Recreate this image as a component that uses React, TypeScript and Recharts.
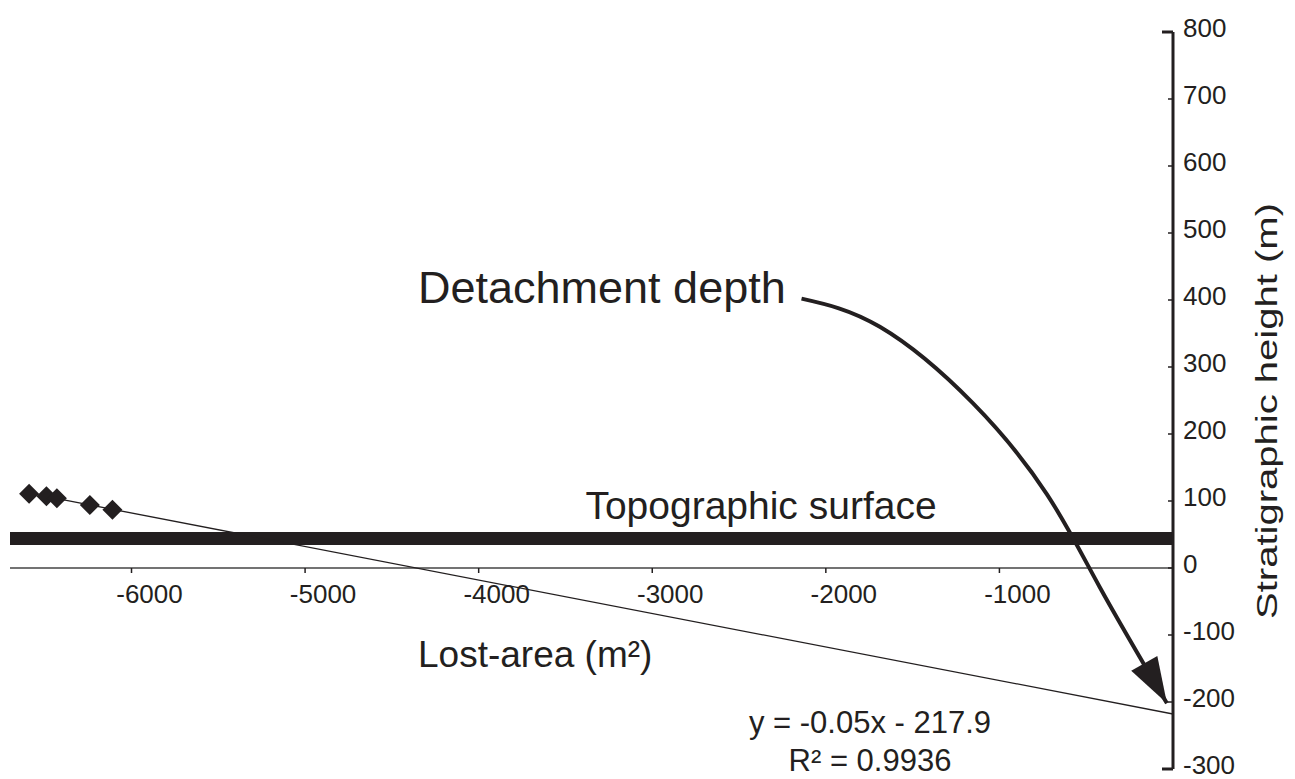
import React from 'react';
import { ComposedChart, XAxis, YAxis, Line, Scatter, ReferenceLine, ReferenceDot, Customized } from 'recharts';

// measured points (lost area vs stratigraphic height)
const pointX = [-6590, -6490, -6430, -6240, -6110];
const pointY = [111, 107, 104, 94, 87];

// linear trend, drawn out to x = 0
const trendX = [-6590, 0];
const trendY = [111.6, -217.9];

// topographic surface
const surfaceX = [-6700, 0];
const surfaceY = [44, 44];

// curved "detachment depth" arrow, in data units
const arrowX = [-2140, -1689, -1153, -726, -421, -35];
const arrowY = [402, 360, 246, 110, -29, -202];

const xTicks = [-6000, -5000, -4000, -3000, -2000, -1000];
const yTicks = [-300, -200, -100, 0, 100, 200, 300, 400, 500, 600, 700, 800];

const zip = (xs: number[], ys: number[]) => xs.map((x, i) => ({ x, y: ys[i] }));

const points = zip(pointX, pointY);
const trend = zip(trendX, trendY);
const surface = zip(surfaceX, surfaceY);
const arrow = zip(arrowX, arrowY);

const FONT = '"Liberation Sans", Arial, sans-serif';
const INK = '#231f20';

const Diamond = (props: any) => {
  const { cx, cy } = props;
  const s = 10;
  return (
    <polygon
      points={`${cx},${cy - s} ${cx + s},${cy} ${cx},${cy + s} ${cx - s},${cy}`}
      fill={INK}
    />
  );
};

const ArrowHead = (props: any) => {
  const { cx, cy, index } = props;
  if (index !== arrow.length - 1) return <g key={`ah-${index}`} />;
  return (
    <polygon
      key={`ah-${index}`}
      points="0,0 -46,-15 -46,15"
      fill={INK}
      transform={`translate(${cx},${cy}) rotate(60.5)`}
    />
  );
};

const YTick = (props: any) => {
  const { x, y, payload } = props;
  const isEnd = payload.value === 800 || payload.value === -300;
  return (
    <g>
      <line
        x1={x - (isEnd ? 11 : 5)}
        x2={x}
        y1={y}
        y2={y}
        stroke={INK}
        strokeWidth={isEnd ? 3 : 1.5}
      />
      <text x={x + 10} y={y + 5} fontSize={26} fontFamily={FONT} fill={INK}>
        {payload.value}
      </text>
    </g>
  );
};

const XTick = (props: any) => {
  const { cx, cy, value } = props;
  return (
    <g>
      <line x1={cx} x2={cx} y1={cy} y2={cy + 5} stroke={INK} strokeWidth={1.5} />
      <text x={cx + 18} y={cy + 35} textAnchor="middle" fontSize={26} fontFamily={FONT} fill={INK}>
        {value}
      </text>
    </g>
  );
};

const Annotations = () => (
  <g fontFamily={FONT} fill={INK}>
    <text x={418} y={303} fontSize={45}>Detachment depth</text>
    <text x={761} y={519} fontSize={39} textAnchor="middle">Topographic surface</text>
    <text x={418} y={667} fontSize={37}>Lost-area (m²)</text>
    <text x={870} y={733} fontSize={31} textAnchor="middle">y = -0.05x - 217.9</text>
    <text x={870} y={771} fontSize={31} textAnchor="middle">R² = 0.9936</text>
    <text
      x={1277}
      y={411}
      fontSize={30}
      textAnchor="middle"
      textLength={416}
      lengthAdjust="spacingAndGlyphs"
      transform="rotate(-90, 1277, 411)"
    >
      Stratigraphic height (m)
    </text>
  </g>
);

export default function App() {
  return (
    <div style={{ position: 'absolute', left: 0, top: 0, background: '#fff' }}>
      <ComposedChart width={1295} height={779} margin={{ top: 32, right: 0, left: 10, bottom: 10 }}>
        <XAxis type="number" dataKey="x" domain={[-6700, 0]} hide allowDataOverflow />
        <YAxis
          type="number"
          dataKey="y"
          orientation="right"
          width={122}
          domain={[-300, 800]}
          ticks={yTicks}
          interval={0}
          tickLine={false}
          tickSize={0}
          tickMargin={0}
          axisLine={{ stroke: INK, strokeWidth: 3 }}
          tick={<YTick />}
          allowDataOverflow
        />
        <ReferenceLine y={0} stroke="#444" strokeWidth={1.5} />
        {xTicks.map((t) => (
          <ReferenceDot
            key={t}
            x={t}
            y={0}
            r={0}
            shape={(p: any) => <XTick {...p} value={t} />}
          />
        ))}
        <Line
          data={surface}
          dataKey="y"
          stroke={INK}
          strokeWidth={13}
          dot={false}
          isAnimationActive={false}
        />
        <Line
          data={trend}
          dataKey="y"
          stroke={INK}
          strokeWidth={1.3}
          dot={false}
          isAnimationActive={false}
        />
        <Scatter data={points} dataKey="y" shape={<Diamond />} isAnimationActive={false} />
        <Line
          data={arrow}
          dataKey="y"
          type="natural"
          stroke={INK}
          strokeWidth={4}
          dot={ArrowHead}
          activeDot={false}
          isAnimationActive={false}
        />
        <Customized component={Annotations} />
      </ComposedChart>
    </div>
  );
}
